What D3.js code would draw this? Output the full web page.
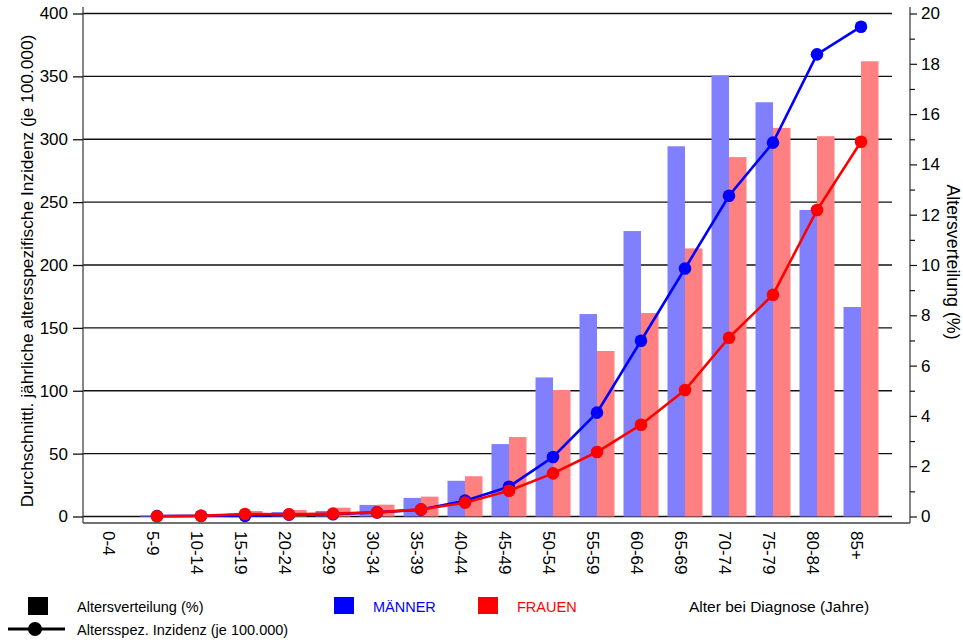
<!DOCTYPE html>
<html>
<head>
<meta charset="utf-8">
<script src="https://cdn.jsdelivr.net/npm/d3@7/dist/d3.min.js"></script>
<style>
  html, body { margin: 0; padding: 0; background: #fff; }
  svg { display: block; font-family: "Liberation Sans", Arial, sans-serif; }
</style>
</head>
<body>
<svg id="chart" width="963" height="644"></svg>
<script>
const categories = ["0-4","5-9","10-14","15-19","20-24","25-29","30-34","35-39","40-44","45-49","50-54","55-59","60-64","65-69","70-74","75-79","80-84","85+"];

// Altersverteilung (%) – bars, right axis
const distMaenner = [0, 0.05, 0.03, 0.12, 0.18, 0.22, 0.46, 0.74, 1.42, 2.88, 5.53, 8.05, 11.35, 14.72, 17.54, 16.47, 12.19, 8.33];
const distFrauen  = [0, 0, 0.03, 0.22, 0.26, 0.35, 0.47, 0.79, 1.6, 3.16, 5.03, 6.58, 8.09, 10.66, 14.29, 15.45, 15.12, 18.1];

// Altersspez. Inzidenz (je 100.000) – lines, left axis
const incMaenner = [null, 0.3, 0.6, 0.5, 1.5, 1.8, 3.3, 5.5, 12.6, 23.7, 47.3, 82.6, 139.8, 197.2, 255.1, 297.3, 367.5, 389.5];
const incFrauen  = [null, 0.2, 0.5, 2.0, 1.7, 2.3, 3.3, 5.7, 11.0, 20.5, 34.3, 51.3, 73.0, 100.6, 142.2, 176.4, 243.7, 298.0];

const leftTicks = [0, 50, 100, 150, 200, 250, 300, 350, 400];
const rightTicks = [0, 2, 4, 6, 8, 10, 12, 14, 16, 18, 20];
const rightMinorTicks = [1, 3, 5, 7, 9, 11, 13, 15, 17, 19];

const yLeftTitle = "Durchschnittl. jährliche altersspezifische Inzidenz (je 100.000)";
const yRightTitle = "Altersverteilung (%)";
const xTitle = "Alter bei Diagnose (Jahre)";
const seriesNames = ["MÄNNER", "FRAUEN"];
const legendBar = "Altersverteilung (%)";
const legendLine = "Altersspez. Inzidenz (je 100.000)";

const C = { mBar: "#8080ff", fBar: "#ff8080", mLine: "#0000ff", fLine: "#ff0000" };

const svg = d3.select("#chart");
const axL = 83, axR = 910, yTop = 7, yFrame = 523, gridEnd = 892;

const x = d3.scaleBand().domain(categories).range([91, 883]).padding(0);
const sub = d3.scaleBand().domain(["M","F"]).range([x.bandwidth()/2 - 17.5, x.bandwidth()/2 + 17.5]).padding(0);
const yL = d3.scaleLinear().domain([0, 400]).range([516.5, 13.5]);
const yR = d3.scaleLinear().domain([0, 20]).range([516.5, 13.5]);
const cx = c => x(c) + x.bandwidth()/2;

// gridlines
svg.append("g").selectAll("line").data(leftTicks).join("line")
  .attr("x1", axL).attr("x2", gridEnd)
  .attr("y1", d => yL(d)).attr("y2", d => yL(d))
  .attr("stroke", "#111").attr("stroke-width", 1.3);

// bars
const bars = svg.append("g");
bars.selectAll("rect.m").data(categories).join("rect").attr("class","m")
  .attr("x", c => x(c) + sub("M")).attr("width", sub.bandwidth())
  .attr("y", (c,i) => yR(distMaenner[i])).attr("height", (c,i) => yR(0) - yR(distMaenner[i]))
  .attr("fill", C.mBar);
bars.selectAll("rect.f").data(categories).join("rect").attr("class","f")
  .attr("x", c => x(c) + sub("F")).attr("width", sub.bandwidth())
  .attr("y", (c,i) => yR(distFrauen[i])).attr("height", (c,i) => yR(0) - yR(distFrauen[i]))
  .attr("fill", C.fBar);

// lines
function drawLine(vals, color) {
  const pts = categories.map((c, i) => ({c, v: vals[i]})).filter(d => d.v != null);
  const line = d3.line().x(d => cx(d.c)).y(d => yL(d.v));
  svg.append("path").datum(pts).attr("d", line)
    .attr("fill", "none").attr("stroke", color).attr("stroke-width", 2.6);
  svg.append("g").selectAll("circle").data(pts).join("circle")
    .attr("cx", d => cx(d.c)).attr("cy", d => yL(d.v)).attr("r", 6.3)
    .attr("fill", color);
}
drawLine(incMaenner, C.mLine);
drawLine(incFrauen, C.fLine);

// axes frame
const axisColor = "#444";
svg.append("line").attr("x1", axL).attr("x2", axL).attr("y1", yTop).attr("y2", yFrame).attr("stroke", axisColor).attr("stroke-width", 1.3);
svg.append("line").attr("x1", axR).attr("x2", axR).attr("y1", yTop).attr("y2", yFrame).attr("stroke", axisColor).attr("stroke-width", 1.3);
svg.append("line").attr("x1", axL).attr("x2", axR).attr("y1", yFrame).attr("y2", yFrame).attr("stroke", axisColor).attr("stroke-width", 1.3);

// left axis
const gL = svg.append("g").attr("transform", `translate(${axL},0)`)
  .call(d3.axisLeft(yL).tickValues(leftTicks).tickSize(10).tickPadding(5).tickFormat(d3.format("d")));
gL.select(".domain").remove();
gL.selectAll(".tick line").attr("stroke", "#111").attr("stroke-width", 1.3);
gL.selectAll(".tick text").attr("font-size", 17).attr("fill", "#000").attr("font-family", "Liberation Sans, Arial, sans-serif");

// right axis
const gR = svg.append("g").attr("transform", `translate(${axR},0)`)
  .call(d3.axisRight(yR).tickValues(rightTicks).tickSize(7).tickPadding(4).tickFormat(d3.format("d")));
gR.select(".domain").remove();
gR.selectAll(".tick line").attr("stroke", "#111").attr("stroke-width", 1.2);
gR.selectAll(".tick text").attr("font-size", 17).attr("fill", "#000").attr("font-family", "Liberation Sans, Arial, sans-serif");
const gRm = svg.append("g").attr("transform", `translate(${axR},0)`)
  .call(d3.axisRight(yR).tickValues(rightMinorTicks).tickSize(5).tickFormat(""));
gRm.select(".domain").remove();
gRm.selectAll(".tick line").attr("stroke", "#111").attr("stroke-width", 1.2);

// x labels
svg.append("g").selectAll("text").data(categories).join("text")
  .attr("transform", c => `translate(${cx(c) - 4},531) rotate(90)`)
  .attr("dy", "0.35em").attr("text-anchor", "start")
  .attr("font-size", 17).attr("fill", "#000")
  .text(c => c);

// axis titles
svg.append("text").attr("transform", "translate(27,271) rotate(-90)")
  .attr("text-anchor", "middle").attr("dy", "0.35em").attr("font-size", 17.3).text(yLeftTitle);
svg.append("text").attr("transform", "translate(953,262) rotate(90)")
  .attr("text-anchor", "middle").attr("dy", "0.35em").attr("font-size", 17.8).text(yRightTitle);

// legend
const lg = svg.append("g").attr("font-size", 14.5);
lg.append("rect").attr("x", 28).attr("y", 597).attr("width", 20).attr("height", 18).attr("fill", "#000");
lg.append("text").attr("x", 77).attr("y", 611.5).text(legendBar);
lg.append("line").attr("x1", 8).attr("x2", 65).attr("y1", 629).attr("y2", 629).attr("stroke", "#000").attr("stroke-width", 3);
lg.append("circle").attr("cx", 35).attr("cy", 629).attr("r", 7).attr("fill", "#000");
lg.append("text").attr("x", 77).attr("y", 635).text(legendLine);

lg.append("rect").attr("x", 334).attr("y", 597).attr("width", 20).attr("height", 17).attr("fill", "#0000ff");
lg.append("text").attr("x", 373).attr("y", 611.5).attr("fill", "#0000ff").text(seriesNames[0]);
lg.append("rect").attr("x", 478).attr("y", 597).attr("width", 20).attr("height", 17).attr("fill", "#ff0000");
lg.append("text").attr("x", 517).attr("y", 611.5).attr("fill", "#ff0000").text(seriesNames[1]);
lg.append("text").attr("x", 689).attr("y", 611.5).attr("font-size", 15.5).attr("fill", "#000").text(xTitle);
</script>
</body>
</html>
